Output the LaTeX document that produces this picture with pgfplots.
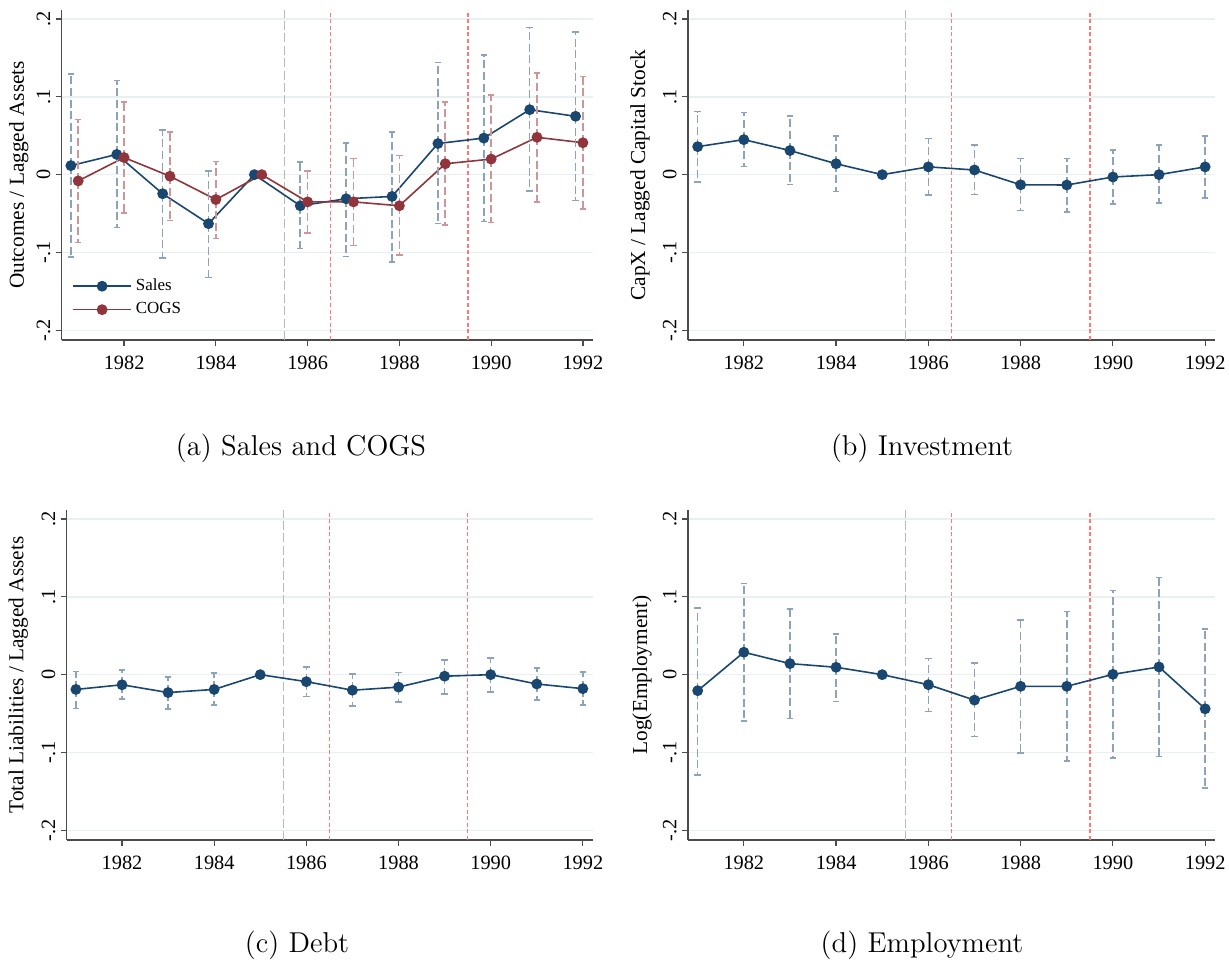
\documentclass[border=0pt]{standalone}
\usepackage{pgfplots}
\pgfplotsset{compat=1.18}
\usepackage{pgfplotstable}
\usepackage{fontspec}
\newfontfamily\stata{Liberation Serif}

\definecolor{navyc}{RGB}{26,71,111}
\definecolor{maroonc}{RGB}{144,53,59}
\definecolor{ciblue}{RGB}{140,163,185}
\definecolor{cired}{RGB}{205,150,153}
\definecolor{gridc}{RGB}{232,240,242}
\definecolor{vgreyc}{RGB}{185,185,185}
\definecolor{vredc}{RGB}{255,120,120}

% year, point estimate, lower and upper 95% bounds
\pgfplotstableread{
year  sb      slo     shi     cb      clo      chi
1981  0.0116  -0.106  0.129   -0.008  -0.087   0.071
1982  0.026   -0.068  0.121   0.022   -0.049   0.093
1983  -0.0245 -0.107  0.057   -0.002  -0.059   0.055
1984  -0.063  -0.132  0.005   -0.032  -0.082   0.017
1985  0       0       0       0       0        0
1986  -0.040  -0.095  0.016   -0.035  -0.075   0.005
1987  -0.031  -0.105  0.041   -0.035  -0.091   0.021
1988  -0.028  -0.112  0.055   -0.040  -0.103   0.0245
1989  0.040   -0.063  0.144   0.014   -0.065   0.093
1990  0.047   -0.060  0.154   0.020   -0.0615  0.1025
1991  0.0835  -0.021  0.189   0.048   -0.035   0.131
1992  0.075   -0.033  0.183   0.041   -0.044   0.126
}\tabA

\pgfplotstableread{
year  b        lo       hi
1981  0.036    -0.0095  0.081
1982  0.045    0.0103   0.080
1983  0.031    -0.0125  0.075
1984  0.014    -0.0215  0.050
1985  0        0        0
1986  0.010    -0.026   0.0465
1987  0.006    -0.0254  0.038
1988  -0.013   -0.046   0.0207
1989  -0.0133  -0.048   0.0207
1990  -0.003   -0.0375  0.032
1991  0.0      -0.0366  0.038
1992  0.010    -0.030   0.050
}\tabB

\pgfplotstableread{
year  b        lo       hi
1981  -0.019   -0.0434  0.0043
1982  -0.013   -0.031   0.006
1983  -0.023   -0.044   -0.003
1984  -0.019   -0.039   0.002
1985  0        0        0
1986  -0.009   -0.028   0.0095
1987  -0.020   -0.040   0.001
1988  -0.016   -0.035   0.003
1989  -0.002   -0.0245  0.019
1990  0.0      -0.022   0.0215
1991  -0.012   -0.0327  0.0086
1992  -0.018   -0.039   0.0034
}\tabC

\pgfplotstableread{
year  b        lo       hi
1981  -0.0206  -0.1286  0.086
1982  0.0288   -0.0594  0.117
1983  0.0142   -0.0563  0.0847
1984  0.0095   -0.0344  0.0525
1985  0        0        0
1986  -0.0129  -0.0473  0.021
1987  -0.0327  -0.0796  0.0146
1988  -0.015   -0.1006  0.0705
1989  -0.015   -0.111   0.0813
1990  0.0004   -0.107   0.108
1991  0.0099   -0.1054  0.1247
1992  -0.0439  -0.1454  0.0585
}\tabD

\pgfplotsset{
  stata/.style={
    scale only axis,
    height=165bp,
    xmax=1992.22,
    ymin=-0.2125, ymax=0.2116,
    axis x line*=bottom, axis y line*=left,
    axis line style={-, black!70, line width=0.6bp},
    every tick/.style={black!70, line width=0.6bp},
    tick align=outside, major tick length=3bp,
    xtick={1982,1984,1986,1988,1990,1992},
    xticklabels={1982,1984,1986,1988,1990,1992},
    ytick={-0.2,-0.1,0,0.1,0.2},
    yticklabels={-.2,-.1,0,.1,.2},
    minor tick num=0,
    ymajorgrids, grid style={gridc, line width=0.7bp},
    tick label style={font=\stata\fontsize{10.2}{12}\selectfont},
    xticklabel style={yshift=-1.5bp},
    yticklabel style={rotate=90, anchor=south, inner sep=2.5bp},
    label style={font=\stata\fontsize{10.7}{13}\selectfont},
    clip=false,
  },
  est/.style={line width=0.8bp, mark=*, mark size=2.3bp, mark options={solid}},
  ci/.style={forget plot, draw=none, mark=none,
    error bars/.cd, y dir=both, y explicit,
    error bar style={draw=#1, line width=0.8bp, dash pattern=on 4bp off 1.8bp},
    error mark options={draw=#1, rotate=90, mark size=1.6bp, solid, line width=0.8bp}},
  vgrey/.style={forget plot, vgreyc, line width=0.65bp, dash pattern=on 4.5bp off 1.7bp},
  vred/.style={forget plot, vredc, line width=0.75bp, dash pattern=on 2bp off 1.3bp},
}

\begin{document}
\begin{tikzpicture}
\path[use as bounding box] (0,0) rectangle (614.5bp,-481bp);

% (a) Sales and COGS
\begin{axis}[stata, at={(30.85bp,-170bp)}, anchor=south west, width=265.65bp,
  xmin=1980.64,
  ylabel={Outcomes / Lagged Assets},
  ylabel style={at={(axis description cs:-0.081,0.5)}, anchor=center},
  legend style={at={(rel axis cs:0.008,0.045)}, anchor=south west, draw=none, fill=none,
    font=\stata\fontsize{8.5}{10}\selectfont, row sep=0.5bp},
  legend cell align=left,
  legend image code/.code={\draw[mark repeat=2, mark phase=2, #1] plot coordinates {(0bp,0bp) (14.5bp,0bp) (29bp,0bp)};},
]
\addplot[vgrey] coordinates {(1985.5,-0.2125) (1985.5,0.2116)};
\addplot[vred] coordinates {(1986.5,-0.2125) (1986.5,0.2116)};
\addplot[vred] coordinates {(1989.5,-0.2125) (1989.5,0.2116)};
\addplot[navyc, est] table[x expr=\thisrow{year}-0.16, y=sb] \tabA;
\addlegendentry{Sales}
\addplot[maroonc, est] table[x=year, y=cb] \tabA;
\addlegendentry{COGS}
\addplot[skip coords between index={4}{5}, ci=ciblue] table[x expr=\thisrow{year}-0.16, y=sb,
  y error plus expr=\thisrow{shi}-\thisrow{sb}, y error minus expr=\thisrow{sb}-\thisrow{slo}] \tabA;
\addplot[skip coords between index={4}{5}, ci=cired] table[x=year, y=cb,
  y error plus expr=\thisrow{chi}-\thisrow{cb}, y error minus expr=\thisrow{cb}-\thisrow{clo}] \tabA;
\end{axis}

% (b) Investment
\begin{axis}[stata, at={(344bp,-170bp)}, anchor=south west, width=263.65bp,
  xmin=1980.79,
  ylabel={CapX / Lagged Capital Stock},
  ylabel style={at={(axis description cs:-0.091,0.5)}, anchor=center},
]
\addplot[vgrey] coordinates {(1985.5,-0.2125) (1985.5,0.2116)};
\addplot[vred] coordinates {(1986.5,-0.2125) (1986.5,0.2116)};
\addplot[vred] coordinates {(1989.5,-0.2125) (1989.5,0.2116)};
\addplot[navyc, est] table[x=year, y=b] \tabB;
\addplot[skip coords between index={4}{5}, ci=ciblue] table[x=year, y=b,
  y error plus expr=\thisrow{hi}-\thisrow{b}, y error minus expr=\thisrow{b}-\thisrow{lo}] \tabB;
\end{axis}

% (c) Debt
\begin{axis}[stata, at={(33.35bp,-420bp)}, anchor=south west, width=263.15bp,
  xmin=1980.80,
  ylabel={Total Liabilities / Lagged Assets},
  ylabel style={at={(axis description cs:-0.092,0.5)}, anchor=center},
]
\addplot[vgrey] coordinates {(1985.5,-0.2125) (1985.5,0.2116)};
\addplot[vred] coordinates {(1986.5,-0.2125) (1986.5,0.2116)};
\addplot[vred] coordinates {(1989.5,-0.2125) (1989.5,0.2116)};
\addplot[navyc, est] table[x=year, y=b] \tabC;
\addplot[skip coords between index={4}{5}, ci=ciblue] table[x=year, y=b,
  y error plus expr=\thisrow{hi}-\thisrow{b}, y error minus expr=\thisrow{b}-\thisrow{lo}] \tabC;
\end{axis}

% (d) Employment
\begin{axis}[stata, at={(344bp,-420bp)}, anchor=south west, width=263.65bp,
  xmin=1980.79,
  ylabel={Log(Employment)},
  ylabel style={at={(axis description cs:-0.087,0.5)}, anchor=center},
]
\addplot[vgrey] coordinates {(1985.5,-0.2125) (1985.5,0.2116)};
\addplot[vred] coordinates {(1986.5,-0.2125) (1986.5,0.2116)};
\addplot[vred] coordinates {(1989.5,-0.2125) (1989.5,0.2116)};
\addplot[navyc, est] table[x=year, y=b] \tabD;
\addplot[skip coords between index={4}{5}, ci=ciblue] table[x=year, y=b,
  y error plus expr=\thisrow{hi}-\thisrow{b}, y error minus expr=\thisrow{b}-\thisrow{lo}] \tabD;
\end{axis}

% panel captions
\node[font=\fontsize{14.4}{17}\selectfont] at (150.5bp,-224bp) {(a) Sales and COGS};
\node[font=\fontsize{14.4}{17}\selectfont] at (461bp,-224bp) {(b) Investment};
\node[font=\fontsize{14.4}{17}\selectfont] at (148.5bp,-472.5bp) {(c) Debt};
\node[font=\fontsize{14.4}{17}\selectfont] at (461bp,-472.5bp) {(d) Employment};
\end{tikzpicture}
\end{document}
